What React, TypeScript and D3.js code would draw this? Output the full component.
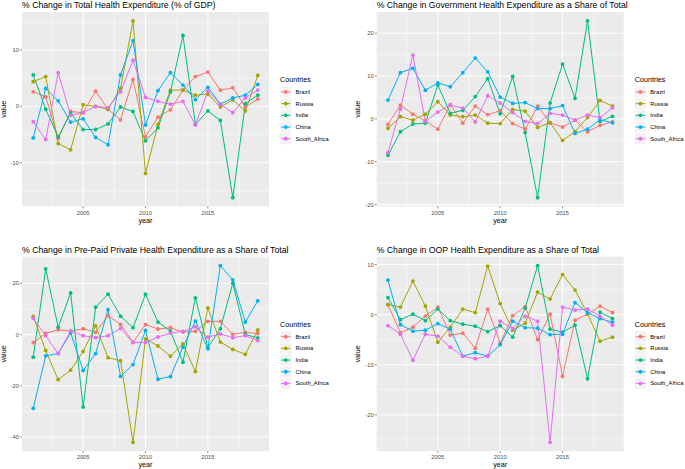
import React from "react";
import * as d3 from "d3";

const YEARS = [2001, 2002, 2003, 2004, 2005, 2006, 2007, 2008, 2009, 2010, 2011, 2012, 2013, 2014, 2015, 2016, 2017, 2018, 2019];
const COUNTRIES = ["Brazil", "Russia", "India", "China", "South_Africa"];
const COLORS = ["#F8766D", "#A3A500", "#00BF7D", "#00B0F6", "#E76BF3"];
const X_BREAKS = [2005, 2010, 2015];

const TITLES = [
  "% Change in Total Health Expenditure (% of GDP)",
  "% Change in Government Health Expenditure as a Share of Total",
  "% Change in Pre-Paid Private Health Expenditure as a Share of Total",
  "% Change in OOP Health Expenditure as a Share of Total",
];
const Y_STEPS = [10, 10, 20, 10];

// Panel 1: Total health expenditure (% of GDP)
const THE_BRAZIL = [2.6, 1.7, -5.7, -0.9, -1.1, 2.7, -0.5, -2.4, 4.8, -5.4, -1.9, -0.6, 2.9, 5.3, 6.1, 2.9, 3.3, -0.1, 1.3];
const THE_RUSSIA = [4.4, 5.3, -6.6, -7.7, 0.3, 0.0, -0.5, 3.2, 15.2, -11.9, -3.2, 2.9, 2.9, 2.0, 2.2, -0.1, 1.2, -0.8, 5.5];
const THE_INDIA = [5.6, -0.5, -5.4, -1.2, -4.1, -4.1, -3.1, -0.1, -0.9, -6.1, -3.8, 2.6, 12.6, -3.2, -0.8, -2.5, -16.2, 0.5, 2.0];
const THE_CHINA = [-5.6, 3.2, 1.0, -2.8, -2.2, -5.5, -6.8, 5.6, 11.7, -3.3, 2.8, 6.0, 3.8, 1.2, 3.4, 0.4, 1.5, 2.0, 3.9];
const THE_SAFRICA = [-2.7, -5.9, 6.0, -1.6, -1.1, 0.0, -0.2, 2.6, 8.2, 1.6, 0.9, 0.4, 0.9, -3.3, 2.7, 0.4, -1.1, 1.5, 2.9];

// Panel 2: Government health expenditure share
const GOV_BRAZIL = [-1.3, 3.2, 1.1, -0.5, -2.4, 3.3, -1.0, 3.0, 1.0, 1.9, -1.1, -2.4, 3.0, -0.9, -1.9, -0.3, -3.0, -1.5, -0.7];
const GOV_RUSSIA = [-2.2, 0.5, -0.3, 1.1, 4.0, 0.9, 0.5, 0.9, -1.0, -1.1, 2.2, 1.8, -2.0, -0.9, -5.0, -3.0, 0.3, 4.3, 3.0];
const GOV_INDIA = [-8.5, -3.0, -1.2, -1.0, 7.9, 1.3, 2.0, 5.2, 9.4, 1.2, 9.9, -3.2, -18.4, 3.7, 12.8, 4.8, 22.9, -0.6, 0.6];
const GOV_CHINA = [4.4, 10.8, 11.8, 6.7, 8.4, 7.5, 10.8, 14.2, 11.0, 5.1, 3.6, 3.8, 2.4, 2.4, 3.1, -3.4, -2.4, -0.2, -0.9];
const GOV_SAFRICA = [-7.9, 2.3, 14.9, -0.6, 1.6, 3.2, 2.5, -0.7, 5.4, 3.7, 1.5, -0.6, -1.1, 1.3, 0.9, -0.3, 0.9, 0.3, 2.6];

// Panel 3: Pre-paid private health expenditure share
const PPP_BRAZIL = [-3.1, 0.5, 1.9, 1.4, 2.3, 0.9, 7.4, 4.0, -3.0, 3.9, 2.2, 2.7, 1.0, 1.3, 5.2, 5.2, 0.1, 0.9, 0.4];
const PPP_RUSSIA = [7.1, -6.2, -17.6, -13.9, -6.6, 3.4, -9.0, -10.2, -42.1, -1.7, -4.4, -8.4, -3.6, -14.4, 10.4, -2.9, -5.8, -7.7, 1.8];
const PPP_INDIA = [-8.8, 25.7, 2.9, 16.3, -28.3, 10.7, 15.8, 7.2, 2.7, 15.8, 4.9, 1.4, -10.8, 14.4, -5.1, 2.3, 20.1, 0.1, -1.3];
const PPP_CHINA = [-28.8, -8.3, -7.4, 0.7, -14.0, -7.4, 9.8, -16.3, -11.7, 1.7, -17.4, -16.4, -4.9, 5.3, -5.5, 27.0, 21.4, 4.9, 13.2];
const PPP_SAFRICA = [6.4, -0.4, -7.4, 1.4, -0.4, -1.2, -0.4, 2.4, -3.1, -3.1, -0.9, 0.6, 1.3, 3.0, -1.0, 0.3, -1.2, -0.4, -2.3];

// Panel 4: Out-of-pocket health expenditure share
const OOP_BRAZIL = [2.0, -3.6, -2.5, -0.3, 1.5, -4.1, -3.7, -6.7, 1.1, -5.7, -0.2, 1.6, -5.0, 0.1, -12.3, -1.1, 0.1, 1.7, 0.4];
const OOP_RUSSIA = [2.0, 1.5, 6.7, 1.7, -5.5, -2.5, 1.1, 0.4, 9.7, 2.2, -3.1, -1.7, 4.5, 3.1, 8.0, 4.9, 0.2, -5.3, -4.5];
const OOP_INDIA = [3.4, -1.0, 0.1, -1.2, 1.1, -1.2, -1.9, -2.3, -3.4, -2.2, -4.5, 1.3, 9.8, -2.9, -3.5, -2.1, -12.8, 0.5, -0.8];
const OOP_CHINA = [6.9, -2.0, -3.3, -3.1, -1.8, -2.9, -8.3, -7.6, -8.3, -6.0, -1.3, -2.6, -2.7, -4.0, -3.9, 2.4, 0.4, -0.8, -1.5];
const OOP_SAFRICA = [-2.2, -3.9, -9.1, -3.9, -4.3, -6.5, -8.3, -8.8, -8.3, -1.3, -2.8, -0.3, -1.3, -25.5, 1.5, 0.9, 1.1, -0.3, -2.1];

const PANEL_SERIES = [
  [THE_BRAZIL, THE_RUSSIA, THE_INDIA, THE_CHINA, THE_SAFRICA],
  [GOV_BRAZIL, GOV_RUSSIA, GOV_INDIA, GOV_CHINA, GOV_SAFRICA],
  [PPP_BRAZIL, PPP_RUSSIA, PPP_INDIA, PPP_CHINA, PPP_SAFRICA],
  [OOP_BRAZIL, OOP_RUSSIA, OOP_INDIA, OOP_CHINA, OOP_SAFRICA],
];

const W = 685;
const H = 469;
const COL_X = [0, 354.7];
const ROW_Y = [0, 244.7];
const PL = 22;
const PT = 12;
const PW = 247;
const PH = 194.5;
const FONT = "'Liberation Sans', Arial, Helvetica, sans-serif";

function Panel({ idx }: { idx: number }) {
  const series = PANEL_SERIES[idx];
  const step = Y_STEPS[idx];
  const ox = COL_X[idx % 2];
  const oy = ROW_Y[Math.floor(idx / 2)];

  const x = d3.scaleLinear().domain([YEARS[0] - 0.9, YEARS[YEARS.length - 1] + 0.9]).range([PL, PL + PW]);
  const all = series.flat();
  const [mn, mx] = d3.extent(all) as [number, number];
  const pad = (mx - mn) * 0.05;
  const y = d3.scaleLinear().domain([mn - pad, mx + pad]).range([PT + PH, PT]);
  const [d0, d1] = y.domain();
  const major = d3.range(Math.ceil(d0 / step) * step, d1 + 1e-9, step);
  const minor: number[] = [];
  for (let v = major[0] - step / 2; v <= d1; v += step) if (v >= d0) minor.push(v);
  const xMinor = X_BREAKS.map((b) => b - 2.5).concat([X_BREAKS[X_BREAKS.length - 1] + 2.5]);

  const line = d3
    .line<number>()
    .x((_, i) => x(YEARS[i]))
    .y((d) => y(d));

  const lx = PL + PW + 11;
  const legTop = PT + PH / 2 - 36;

  return (
    <g transform={`translate(${ox},${oy})`} fontFamily={FONT}>
      <text x={PL} y={8} fontSize={8.7} fill="#000">
        {TITLES[idx]}
      </text>
      <rect x={PL} y={PT} width={PW} height={PH} fill="#EBEBEB" />
      {minor.map((v) => (
        <line key={"ym" + v} x1={PL} x2={PL + PW} y1={y(v)} y2={y(v)} stroke="#fff" strokeWidth={0.5} />
      ))}
      {xMinor.map((v) => (
        <line key={"xm" + v} x1={x(v)} x2={x(v)} y1={PT} y2={PT + PH} stroke="#fff" strokeWidth={0.5} />
      ))}
      {major.map((v) => (
        <line key={"yM" + v} x1={PL} x2={PL + PW} y1={y(v)} y2={y(v)} stroke="#fff" strokeWidth={0.95} />
      ))}
      {X_BREAKS.map((v) => (
        <line key={"xM" + v} x1={x(v)} x2={x(v)} y1={PT} y2={PT + PH} stroke="#fff" strokeWidth={0.95} />
      ))}
      {series.map((s, i) => (
        <path key={"l" + i} d={line(s) || ""} fill="none" stroke={COLORS[i]} strokeWidth={1} />
      ))}
      {series.map((s, i) =>
        s.map((v, j) => <circle key={"p" + i + "-" + j} cx={x(YEARS[j])} cy={y(v)} r={1.9} fill={COLORS[i]} />)
      )}
      {major.map((v) => (
        <g key={"yt" + v}>
          <line x1={PL - 1.8} x2={PL} y1={y(v)} y2={y(v)} stroke="#333" strokeWidth={0.6} />
          <text x={PL - 3} y={y(v)} dy="0.35em" textAnchor="end" fontSize={5.8} fill="#4D4D4D">
            {v}
          </text>
        </g>
      ))}
      {X_BREAKS.map((v) => (
        <g key={"xt" + v}>
          <line x1={x(v)} x2={x(v)} y1={PT + PH} y2={PT + PH + 1.8} stroke="#333" strokeWidth={0.6} />
          <text x={x(v)} y={PT + PH + 8.2} textAnchor="middle" fontSize={5.8} fill="#4D4D4D">
            {v}
          </text>
        </g>
      ))}
      <text x={PL + PW / 2} y={222.5} textAnchor="middle" fontSize={7.2} fill="#000">
        year
      </text>
      <text
        transform={`translate(5.6,${PT + PH / 2}) rotate(-90)`}
        textAnchor="middle"
        fontSize={7.2}
        fill="#000"
      >
        value
      </text>
      <text x={lx} y={legTop + 8.8} fontSize={7.2} fill="#000">
        Countries
      </text>
      {COUNTRIES.map((c, i) => {
        const cy = legTop + 18.7 + i * 11.7;
        return (
          <g key={c}>
            <rect x={lx} y={cy - 5.75} width={11.5} height={11.5} fill="#F2F2F2" stroke="#fff" strokeWidth={0.5} />
            <line x1={lx + 1} x2={lx + 10.5} y1={cy} y2={cy} stroke={COLORS[i]} strokeWidth={1} />
            <circle cx={lx + 5.75} cy={cy} r={1.9} fill={COLORS[i]} />
            <text x={lx + 15.5} y={cy} dy="0.35em" fontSize={5.8} fill="#000">
              {c}
            </text>
          </g>
        );
      })}
    </g>
  );
}

export default function App() {
  return (
    <svg
      width={W}
      height={H}
      viewBox={`0 0 ${W} ${H}`}
      style={{ position: "absolute", left: 0, top: 0, display: "block", background: "#fff" }}
    >
      <rect width={W} height={H} fill="#fff" />
      {[0, 1, 2, 3].map((i) => (
        <Panel key={i} idx={i} />
      ))}
    </svg>
  );
}
